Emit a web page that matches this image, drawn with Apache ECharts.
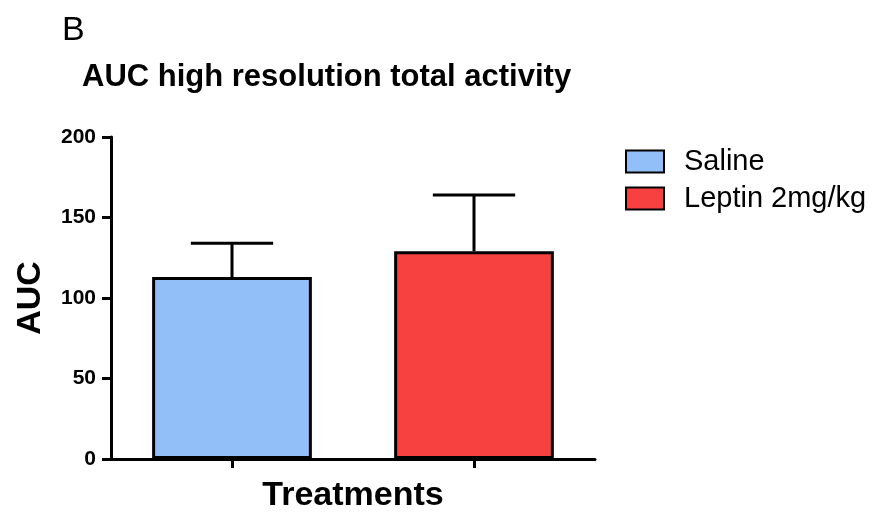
<!DOCTYPE html>
<html>
<head>
<meta charset="utf-8">
<script src="https://cdn.jsdelivr.net/npm/echarts@6/dist/echarts.min.js"></script>
<style>html,body{margin:0;padding:0;background:#fff;}#c{width:879px;height:514px;}</style>
</head>
<body>
<div id="c"></div>
<script>
const categories = ['Saline', 'Leptin 2mg/kg'];
const means = [113, 129];
const errTops = [134, 164];
const yTicks = [0, 50, 100, 150, 200];
const colors = ['#92BFF8', '#F74141'];

const chart = echarts.init(document.getElementById('c'));
const FONT = 'Liberation Sans, Arial, sans-serif';

const barSeries = categories.map((name, i) => ({
  name: name,
  type: 'bar',
  data: categories.map((_, j) => j === i ? means[i] : '-'),
  barWidth: '66%',
  barGap: '-100%',
  itemStyle: { color: colors[i], borderColor: '#000', borderWidth: 3 },
  z: 2
}));

const errData = categories.map((_, i) => [i, means[i], errTops[i]]);

chart.setOption({
  animation: false,
  backgroundColor: '#fff',
  title: [
    { text: 'B', left: 57, top: 9, textStyle: { fontFamily: FONT, fontSize: 34, fontWeight: 'normal', color: '#000' } },
    { text: 'AUC high resolution total activity', left: 77, top: 57, textStyle: { fontFamily: FONT, fontSize: 31, fontWeight: 'bold', color: '#000' } }
  ],
  legend: {
    orient: 'vertical',
    left: 625, top: 147,
    padding: 0,
    itemWidth: 38, itemHeight: 22, itemGap: 8,
    icon: 'rect',
    data: categories,
    textStyle: { fontFamily: FONT, fontSize: 29, color: '#000', padding: [0, 0, 0, 15] }
  },
  grid: { left: 111, right: 284, top: 137, bottom: 55, outerBoundsMode: 'none', containLabel: false },
  xAxis: {
    type: 'category',
    data: categories,
    name: 'Treatments',
    nameLocation: 'middle',
    nameGap: 20,
    nameTextStyle: { fontFamily: FONT, fontSize: 34, fontWeight: 'bold', color: '#000' },
    axisLine: { lineStyle: { color: '#000', width: 3 } },
    axisTick: { show: true, alignWithLabel: true, interval: 0, length: 9, lineStyle: { color: '#000', width: 3 } },
    axisLabel: { show: true, interval: 0, formatter: () => '', margin: 0 }
  },
  yAxis: {
    type: 'value',
    min: 0, max: 200, interval: 50,
    name: 'AUC',
    nameLocation: 'middle',
    nameGap: 63,
    nameRotate: 90,
    nameTextStyle: { fontFamily: FONT, fontSize: 34, fontWeight: 'bold', color: '#000' },
    axisLine: { show: true, lineStyle: { color: '#000', width: 3 } },
    axisTick: { show: true, length: 9, lineStyle: { color: '#000', width: 3 } },
    axisLabel: {
      margin: 15, fontFamily: FONT, fontSize: 21, fontWeight: 'bold', color: '#000',
      formatter: v => yTicks.includes(v) ? String(v) : ''
    },
    splitLine: { show: false }
  },
  series: barSeries.concat([{
    type: 'custom',
    data: errData,
    z: 5,
    silent: true,
    renderItem: function (params, api) {
      const x = api.value(0);
      const lo = api.coord([x, api.value(1)]);
      const hi = api.coord([x, api.value(2)]);
      const half = api.size([1, 0])[0] * 0.17;
      const st = { stroke: '#000', lineWidth: 3 };
      return {
        type: 'group',
        children: [
          { type: 'line', shape: { x1: lo[0], y1: lo[1], x2: hi[0], y2: hi[1] }, style: st },
          { type: 'line', shape: { x1: hi[0] - half, y1: hi[1], x2: hi[0] + half, y2: hi[1] }, style: st }
        ]
      };
    },
    encode: { x: 0, y: 2 }
  }])
});
</script>
</body>
</html>
